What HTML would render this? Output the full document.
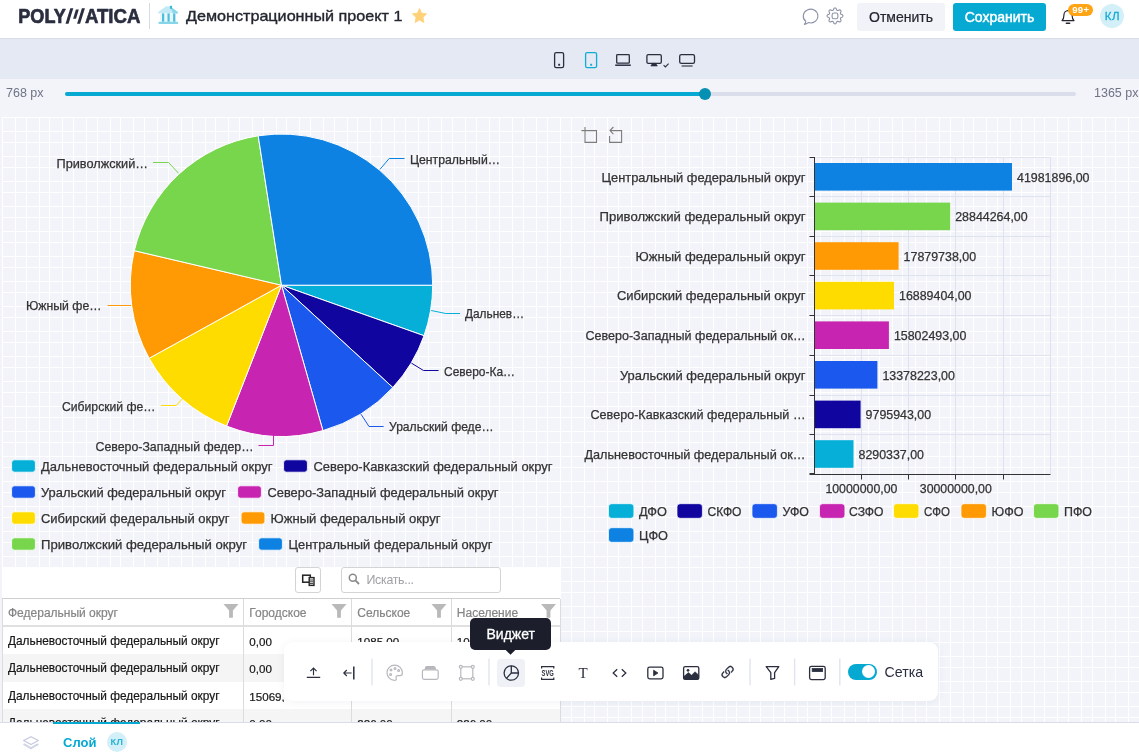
<!DOCTYPE html>
<html lang="ru">
<head>
<meta charset="utf-8">
<title>Polymatica</title>
<style>
*{box-sizing:border-box;margin:0;padding:0}
html,body{width:1139px;height:756px;overflow:hidden;background:#f2f4fa;font-family:"Liberation Sans",sans-serif;color:#2a2e3f}
.abs{position:absolute}
#hdr{position:absolute;left:0;top:0;width:1139px;height:39px;background:#fff;border-bottom:1px solid #d9dcea}
#devbar{position:absolute;left:0;top:39px;width:1139px;height:40px;background:#e5e9f4}
#sliderbar{position:absolute;left:0;top:79px;width:1139px;height:31px;background:#f2f4fa}
#canvas{position:absolute;left:0;top:110px;width:1139px;height:613px;background:#f2f4fa;overflow:hidden}
#footer{position:absolute;left:0;top:722px;width:1139px;height:34px;background:#fff;border-top:1px solid #d9dcea}
.t{position:absolute;white-space:nowrap;line-height:1}
.btn{position:absolute;top:3px;height:28px;border-radius:3px;font-size:14px;line-height:28px;text-align:center}
.hd{color:#858585;font-size:12px}
#tbl .t{-webkit-text-stroke:0.2px currentColor}
#tbl .n{font-size:11.6px;margin-top:0.3px}
.vl{top:32px;width:1px;height:140px;background:#dcdcdc}
svg{position:absolute;overflow:visible}
svg text{font-family:"Liberation Sans",sans-serif}
.ct text{stroke:#333;stroke-width:0.25px}
</style>
</head>
<body>
<!-- HEADER -->
<div id="hdr">
  <svg id="logo" style="left:0;top:0" width="150" height="38" viewBox="0 0 150 38">
    <g font-family="Liberation Sans, sans-serif" font-weight="700" font-size="20.7" fill="#2a2e3f" stroke="#2a2e3f" stroke-width="0.7" stroke-linejoin="round">
      <text x="18.3" y="23.3" textLength="47.6" lengthAdjust="spacingAndGlyphs">POLY</text>
      <text x="84.9" y="23.3" textLength="55.6" lengthAdjust="spacingAndGlyphs">ATICA</text>
    </g>
    <g fill="#2a2e3f">
      <polygon points="65.5,23.7 68.5,23.7 73.3,8.2 70.3,8.2"/>
      <polygon points="73.1,18.8 76,18.8 78.8,9.4 75.9,9.4"/>
      <polygon points="77.1,23.7 80.1,23.7 84.9,8.2 81.9,8.2"/>
    </g>
  </svg>
  <div class="abs" style="left:149px;top:3px;width:1px;height:26px;background:#d6d9e6"></div>
  <svg id="bank" style="left:158px;top:5px" width="20" height="20" viewBox="158 5 20 20">
    <path d="M158.2 13.4 V12 L166 6.2 H170 L177.8 12 V13.4 Z" fill="#c4ebf5"/>
    <path d="M170 6.2 L177.8 12 V13.4 H173 Z" fill="#8ad7ea"/>
    <rect x="169.9" y="5.8" width="2.1" height="3" fill="#3bb8d8"/>
    <rect x="160" y="13.4" width="16" height="8.4" fill="#e9f7fb"/>
    <rect x="162" y="13.4" width="2.2" height="8.4" fill="#4dbfdc"/>
    <rect x="167.5" y="13.4" width="2.2" height="8.4" fill="#4dbfdc"/>
    <rect x="173.1" y="13.4" width="2.2" height="8.4" fill="#4dbfdc"/>
    <rect x="158.6" y="21.8" width="19.4" height="2.3" rx="0.5" fill="#86d6ea"/>
  </svg>
  <svg id="title" style="left:0;top:0" width="420" height="38"><text x="186" y="21.1" font-size="15" fill="#23262f" stroke="#23262f" stroke-width="0.35" textLength="216.4" lengthAdjust="spacingAndGlyphs">Демонстрационный проект 1</text></svg>
  <svg id="star" style="left:412px;top:7.9px" width="15" height="15" viewBox="0 0 24 23" preserveAspectRatio="none">
    <path d="M12 0.8 L15.4 8 L23.3 9 L17.5 14.4 L19 22.2 L12 18.4 L5 22.2 L6.5 14.4 L0.7 9 L8.6 8 Z" fill="#ffd27a" stroke="#ffd27a" stroke-width="1.4" stroke-linejoin="round"/>
  </svg>
  <svg id="chat" style="left:0;top:0" width="850" height="38" viewBox="0 0 850 38" fill="none" stroke="#8d91a8" stroke-width="1.1" stroke-linejoin="round">
    <path d="M805.8 21.3 A7.3 6.9 0 1 1 808.2 22.6 Q806.6 24 804.3 24.5 Q805.6 23 805.8 21.3 Z"/>
    <path id="gear" d="M842.95 15.90 L842.91 16.21 L842.79 16.51 L842.59 16.80 L842.30 17.06 L841.82 17.26 L841.33 17.42 L841.03 17.60 L840.79 17.78 L840.61 17.97 L840.50 18.18 L840.43 18.41 L840.42 18.66 L840.46 18.96 L840.55 19.30 L840.78 19.76 L840.98 20.24 L841.00 20.63 L840.94 20.97 L840.81 21.27 L840.62 21.52 L840.37 21.71 L840.07 21.84 L839.73 21.90 L839.34 21.88 L838.86 21.68 L838.40 21.45 L838.06 21.36 L837.76 21.32 L837.51 21.33 L837.28 21.40 L837.07 21.51 L836.88 21.69 L836.70 21.93 L836.52 22.23 L836.36 22.72 L836.16 23.20 L835.90 23.49 L835.61 23.69 L835.31 23.81 L835.00 23.85 L834.69 23.81 L834.39 23.69 L834.10 23.49 L833.84 23.20 L833.64 22.72 L833.48 22.23 L833.30 21.93 L833.12 21.69 L832.93 21.51 L832.72 21.40 L832.49 21.33 L832.24 21.32 L831.94 21.36 L831.60 21.45 L831.14 21.68 L830.66 21.88 L830.27 21.90 L829.93 21.84 L829.63 21.71 L829.38 21.52 L829.19 21.27 L829.06 20.97 L829.00 20.63 L829.02 20.24 L829.22 19.76 L829.45 19.30 L829.54 18.96 L829.58 18.66 L829.57 18.41 L829.50 18.18 L829.39 17.97 L829.21 17.78 L828.97 17.60 L828.67 17.42 L828.18 17.26 L827.70 17.06 L827.41 16.80 L827.21 16.51 L827.09 16.21 L827.05 15.90 L827.09 15.59 L827.21 15.29 L827.41 15.00 L827.70 14.74 L828.18 14.54 L828.67 14.38 L828.97 14.20 L829.21 14.02 L829.39 13.83 L829.50 13.62 L829.57 13.39 L829.58 13.14 L829.54 12.84 L829.45 12.50 L829.22 12.04 L829.02 11.56 L829.00 11.17 L829.06 10.83 L829.19 10.53 L829.38 10.28 L829.63 10.09 L829.93 9.96 L830.27 9.90 L830.66 9.92 L831.14 10.12 L831.60 10.35 L831.94 10.44 L832.24 10.48 L832.49 10.47 L832.72 10.40 L832.93 10.29 L833.12 10.11 L833.30 9.87 L833.48 9.57 L833.64 9.08 L833.84 8.60 L834.10 8.31 L834.39 8.11 L834.69 7.99 L835.00 7.95 L835.31 7.99 L835.61 8.11 L835.90 8.31 L836.16 8.60 L836.36 9.08 L836.52 9.57 L836.70 9.87 L836.88 10.11 L837.07 10.29 L837.28 10.40 L837.51 10.47 L837.76 10.48 L838.06 10.44 L838.40 10.35 L838.86 10.12 L839.34 9.92 L839.73 9.90 L840.07 9.96 L840.37 10.09 L840.62 10.28 L840.81 10.53 L840.94 10.83 L841.00 11.17 L840.98 11.56 L840.78 12.04 L840.55 12.50 L840.46 12.84 L840.42 13.14 L840.43 13.39 L840.50 13.62 L840.61 13.83 L840.79 14.02 L841.03 14.20 L841.33 14.38 L841.82 14.54 L842.30 14.74 L842.59 15.00 L842.79 15.29 L842.91 15.59 Z"/>
    <rect x="832.1" y="13" width="5.8" height="5.8" rx="1.9"/>
  </svg>
  <div class="btn" id="cancel" style="left:857px;width:88px;background:#f2f3f8;color:#23262f;-webkit-text-stroke:0.2px #23262f">Отменить</div>
  <div class="btn" id="save" style="left:953px;width:93px;background:#06a9d1;color:#fff;-webkit-text-stroke:0.45px #fff">Сохранить</div>
  <svg id="bell" style="left:1061.2px;top:8px" width="14" height="17" viewBox="0 0 14 17" fill="none" stroke="#23262f" stroke-width="1.2">
    <path d="M1 12.6 c1.6 -1.4 1.9 -2.6 1.9 -5.4 a4.1 4.6 0 0 1 8.2 0 c0 2.8 0.3 4 1.9 5.4 z" stroke-linejoin="round"/>
    <path d="M5.4 15.3 h3.2" stroke-width="1.6" stroke-linecap="round"/>
  </svg>
  <div class="abs" id="badge" style="left:1068px;top:4px;width:25px;height:12px;border-radius:6px;background:#ffa414;color:#fff;font-size:9.6px;font-weight:700;line-height:12px;text-align:center;letter-spacing:0.25px;padding-left:0.5px">99+</div>
  <div class="abs" id="avatar" style="left:1100px;top:4px;width:24px;height:24px;border-radius:12px;background:#d3eff7;color:#18aad4;font-size:11.5px;line-height:24px;text-align:center;letter-spacing:0.6px;padding-left:1px;-webkit-text-stroke:0.3px #18aad4">КЛ</div>
</div>
<!-- DEVICE BAR -->
<div id="devbar">
  <svg style="left:0;top:0" width="1139" height="40" viewBox="0 39 1139 40" fill="none" stroke="#2a2e3f" stroke-width="1.3">
    <!-- phone -->
    <rect x="554.6" y="52.6" width="9" height="15" rx="1.6"/>
    <rect x="558.2" y="63.8" width="1.9" height="1.9" fill="#2a2e3f" stroke="none"/>
    <!-- tablet (active) -->
    <rect x="585.6" y="52.6" width="11" height="15" rx="1.6" stroke="#10add3"/>
    <rect x="590.2" y="63.8" width="1.9" height="1.9" fill="#10add3" stroke="none"/>
    <!-- laptop -->
    <rect x="616.7" y="54.6" width="12.6" height="8.6" rx="0.8"/>
    <path d="M615.2 65.2 H630.8" stroke-width="1.5"/>
    <!-- desktop -->
    <rect x="646.9" y="54.6" width="14.4" height="8.8" rx="1.4"/>
    <path d="M650.8 66 L652.4 63.4 H655.8 L657.4 66 Z" fill="#2a2e3f" stroke-width="0.6"/>
    <path d="M663.6 65.2 L665.4 67 L668.6 63.6" stroke-width="1.1"/>
    <!-- tv -->
    <rect x="679.7" y="54.6" width="14.8" height="8.8" rx="1.6"/>
    <path d="M681.6 66 H692.6" stroke-width="1.1"/>
  </svg>
</div>

<!-- SLIDER BAR -->
<div id="sliderbar">
  <div class="t" style="left:6px;top:8px;font-size:12.5px;color:#6f7384">768 px</div>
  <div class="abs" style="left:65px;top:13px;width:1011px;height:4px;border-radius:2px;background:#dadeea"></div>
  <div class="abs" style="left:65px;top:13px;width:640px;height:4px;border-radius:2px;background:#06a9d1"></div>
  <div class="abs" style="left:699px;top:9px;width:12px;height:12px;border-radius:6px;background:#0690b2"></div>
  <div class="t" style="left:1094px;top:8px;font-size:12.5px;color:#6f7384">1365 px</div>
</div>
<!-- CANVAS -->
<div id="canvas">
<svg id="grid" style="left:0;top:0" width="1139" height="613"><path d="M2.5 7V613M15.5 7V613M26.5 7V613M39.5 7V613M49.5 7V613M62.5 7V613M73.5 7V613M86.5 7V613M97.5 7V613M110.5 7V613M120.5 7V613M133.5 7V613M144.5 7V613M157.5 7V613M168.5 7V613M181.5 7V613M192.5 7V613M205.5 7V613M215.5 7V613M228.5 7V613M239.5 7V613M252.5 7V613M263.5 7V613M276.5 7V613M286.5 7V613M299.5 7V613M310.5 7V613M323.5 7V613M334.5 7V613M347.5 7V613M357.5 7V613M370.5 7V613M381.5 7V613M394.5 7V613M405.5 7V613M418.5 7V613M428.5 7V613M441.5 7V613M452.5 7V613M465.5 7V613M476.5 7V613M489.5 7V613M499.5 7V613M512.5 7V613M523.5 7V613M536.5 7V613M547.5 7V613M560.5 7V613M571.5 7V613M584.5 7V613M594.5 7V613M607.5 7V613M618.5 7V613M631.5 7V613M642.5 7V613M655.5 7V613M665.5 7V613M678.5 7V613M689.5 7V613M702.5 7V613M713.5 7V613M726.5 7V613M736.5 7V613M749.5 7V613M760.5 7V613M773.5 7V613M784.5 7V613M797.5 7V613M807.5 7V613M820.5 7V613M831.5 7V613M844.5 7V613M855.5 7V613M868.5 7V613M879.5 7V613M892.5 7V613M902.5 7V613M915.5 7V613M926.5 7V613M939.5 7V613M950.5 7V613M963.5 7V613M973.5 7V613M986.5 7V613M997.5 7V613M1010.5 7V613M1021.5 7V613M1034.5 7V613M1044.5 7V613M1057.5 7V613M1068.5 7V613M1081.5 7V613M1092.5 7V613M1105.5 7V613M1115.5 7V613M1128.5 7V613M1139.5 7V613M2 7.5H1139M2 21.5H1139M2 32.5H1139M2 46.5H1139M2 57.5H1139M2 71.5H1139M2 82.5H1139M2 96.5H1139M2 107.5H1139M2 121.5H1139M2 132.5H1139M2 146.5H1139M2 157.5H1139M2 171.5H1139M2 182.5H1139M2 196.5H1139M2 207.5H1139M2 221.5H1139M2 232.5H1139M2 246.5H1139M2 257.5H1139M2 271.5H1139M2 282.5H1139M2 296.5H1139M2 307.5H1139M2 321.5H1139M2 332.5H1139M2 346.5H1139M2 357.5H1139M2 371.5H1139M2 382.5H1139M2 396.5H1139M2 407.5H1139M2 421.5H1139M2 432.5H1139M2 446.5H1139M2 457.5H1139M2 471.5H1139M2 482.5H1139M2 496.5H1139M2 507.5H1139M2 521.5H1139M2 532.5H1139M2 546.5H1139M2 557.5H1139M2 571.5H1139M2 582.5H1139M2 596.5H1139M2 607.5H1139" fill="none" stroke="#fff" stroke-width="1"/></svg>
<svg id="pie" class="ct" style="left:0;top:0" width="570" height="470" font-size="12.2" fill="#333">
<path d="M281.50 175.20 L432.70 175.20 A151.2 151.2 0 0 1 424.01 225.73 Z" fill="#06afd8" stroke="#fff" stroke-width="1" stroke-linejoin="round"/>
<path d="M281.50 175.20 L424.01 225.73 A151.2 151.2 0 0 1 392.81 277.53 Z" fill="#10069f" stroke="#fff" stroke-width="1" stroke-linejoin="round"/>
<path d="M281.50 175.20 L392.81 277.53 A151.2 151.2 0 0 1 322.92 320.62 Z" fill="#1b58ee" stroke="#fff" stroke-width="1" stroke-linejoin="round"/>
<path d="M281.50 175.20 L322.92 320.62 A151.2 151.2 0 0 1 226.54 316.06 Z" fill="#c725b1" stroke="#fff" stroke-width="1" stroke-linejoin="round"/>
<path d="M281.50 175.20 L226.54 316.06 A151.2 151.2 0 0 1 149.14 248.29 Z" fill="#ffdc00" stroke="#fff" stroke-width="1" stroke-linejoin="round"/>
<path d="M281.50 175.20 L149.14 248.29 A151.2 151.2 0 0 1 134.29 140.67 Z" fill="#ff9a04" stroke="#fff" stroke-width="1" stroke-linejoin="round"/>
<path d="M281.50 175.20 L134.29 140.67 A151.2 151.2 0 0 1 258.19 25.81 Z" fill="#77d64c" stroke="#fff" stroke-width="1" stroke-linejoin="round"/>
<path d="M281.50 175.20 L258.19 25.81 A151.2 151.2 0 0 1 432.70 175.20 Z" fill="#0d82e3" stroke="#fff" stroke-width="1" stroke-linejoin="round"/>
<polyline points="380.0,59.3 389.2,48.5 404.5,48.5" fill="none" stroke="#0d82e3" stroke-width="1"/>
<text x="410.0" y="54.3" textLength="90.0" lengthAdjust="spacingAndGlyphs">Центральный…</text>
<polyline points="178.5,63.2 168.6,52.5 153.0,52.5" fill="none" stroke="#77d64c" stroke-width="1"/>
<text x="56.5" y="57.8" textLength="91.5" lengthAdjust="spacingAndGlyphs">Приволжский…</text>
<polyline points="131.0,195.5 122.0,195.5 107.5,195.5" fill="none" stroke="#ff9a04" stroke-width="1"/>
<text x="26.0" y="199.8" textLength="75.5" lengthAdjust="spacingAndGlyphs">Южный фе…</text>
<polyline points="185.0,286.0 176.2,295.5 161.0,295.5" fill="none" stroke="#ffdc00" stroke-width="1"/>
<text x="62.0" y="300.8" textLength="93.5" lengthAdjust="spacingAndGlyphs">Сибирский фе…</text>
<polyline points="273.5,325.0 273.5,335.5 258.5,335.5" fill="none" stroke="#c725b1" stroke-width="1"/>
<text x="95.5" y="340.8" textLength="158.0" lengthAdjust="spacingAndGlyphs">Северо-Западный федер…</text>
<polyline points="361.0,304.2 369.0,316.5 383.6,316.5" fill="none" stroke="#1b58ee" stroke-width="1"/>
<text x="389.0" y="320.8" textLength="104.5" lengthAdjust="spacingAndGlyphs">Уральский феде…</text>
<polyline points="411.4,253.1 423.5,260.5 438.6,260.5" fill="none" stroke="#10069f" stroke-width="1"/>
<text x="444.0" y="265.8" textLength="71.0" lengthAdjust="spacingAndGlyphs">Северо-Ка…</text>
<polyline points="431.2,200.5 445.8,203.5 460.0,203.5" fill="none" stroke="#06afd8" stroke-width="1"/>
<text x="465.0" y="207.8" textLength="59.0" lengthAdjust="spacingAndGlyphs">Дальнев…</text>
<g font-size="12.2">
<rect x="11.6" y="349.8" width="23.8" height="12.4" rx="3" fill="#06afd8" stroke="#fff" stroke-opacity="0.8" stroke-width="1"/>
<text x="41.0" y="361.0" textLength="231.5" lengthAdjust="spacingAndGlyphs">Дальневосточный федеральный округ</text>
<rect x="283.6" y="349.8" width="23.8" height="12.4" rx="3" fill="#10069f" stroke="#fff" stroke-opacity="0.8" stroke-width="1"/>
<text x="313.5" y="361.0" textLength="239.0" lengthAdjust="spacingAndGlyphs">Северо-Кавказский федеральный округ</text>
<rect x="11.6" y="375.8" width="23.8" height="12.4" rx="3" fill="#1b58ee" stroke="#fff" stroke-opacity="0.8" stroke-width="1"/>
<text x="41.0" y="387.0" textLength="185.0" lengthAdjust="spacingAndGlyphs">Уральский федеральный округ</text>
<rect x="237.6" y="375.8" width="23.8" height="12.4" rx="3" fill="#c725b1" stroke="#fff" stroke-opacity="0.8" stroke-width="1"/>
<text x="267.5" y="387.0" textLength="231.0" lengthAdjust="spacingAndGlyphs">Северо-Западный федеральный округ</text>
<rect x="11.6" y="401.8" width="23.8" height="12.4" rx="3" fill="#ffdc00" stroke="#fff" stroke-opacity="0.8" stroke-width="1"/>
<text x="41.0" y="413.0" textLength="188.5" lengthAdjust="spacingAndGlyphs">Сибирский федеральный округ</text>
<rect x="241.1" y="401.8" width="23.8" height="12.4" rx="3" fill="#ff9a04" stroke="#fff" stroke-opacity="0.8" stroke-width="1"/>
<text x="270.5" y="413.0" textLength="170.0" lengthAdjust="spacingAndGlyphs">Южный федеральный округ</text>
<rect x="11.6" y="427.8" width="23.8" height="12.4" rx="3" fill="#77d64c" stroke="#fff" stroke-opacity="0.8" stroke-width="1"/>
<text x="41.0" y="439.0" textLength="206.0" lengthAdjust="spacingAndGlyphs">Приволжский федеральный округ</text>
<rect x="258.6" y="427.8" width="23.8" height="12.4" rx="3" fill="#0d82e3" stroke="#fff" stroke-opacity="0.8" stroke-width="1"/>
<text x="288.5" y="439.0" textLength="204.0" lengthAdjust="spacingAndGlyphs">Центральный федеральный округ</text>
</g>
</svg>
<svg id="bar" class="ct" style="left:0;top:0" width="1139" height="470" font-size="12.2" fill="#333">
<g fill="none" stroke="#7d7d7d" stroke-width="1.1"><path d="M585 17.0 V32.4 H596.5 V20.6 H589 M581.4 20.6 H589"/><path d="M609.6 26.0 V32.4 H621.6 V20.6 H610.5 M613.4 17.0 L610 20.6 L613.4 24.2"/></g>
<g stroke="#dfe3f0" stroke-width="1" fill="none">
<path d="M814.5 47.5 H1050.5"/>
<path d="M814.5 86.5 H1050.5"/>
<path d="M814.5 126.5 H1050.5"/>
<path d="M814.5 165.5 H1050.5"/>
<path d="M814.5 205.5 H1050.5"/>
<path d="M814.5 245.5 H1050.5"/>
<path d="M814.5 285.5 H1050.5"/>
<path d="M814.5 324.5 H1050.5"/>
<path d="M861.5 47.0 V363.8"/>
<path d="M908.5 47.0 V363.8"/>
<path d="M955.5 47.0 V363.8"/>
<path d="M1003.5 47.0 V363.8"/>
<path d="M1050.5 47.0 V363.8"/>
</g>
<rect x="814.7" y="53.0" width="197.3" height="27.6" fill="#0d82e3"/>
<text x="601.5" y="71.6" textLength="204.0" lengthAdjust="spacingAndGlyphs">Центральный федеральный округ</text>
<text x="1017.0" y="71.6" textLength="72.5" lengthAdjust="spacingAndGlyphs">41981896,00</text>
<rect x="814.7" y="92.6" width="135.5" height="27.6" fill="#77d64c"/>
<text x="599.5" y="111.2" textLength="206.0" lengthAdjust="spacingAndGlyphs">Приволжский федеральный округ</text>
<text x="955.2" y="111.2" textLength="72.5" lengthAdjust="spacingAndGlyphs">28844264,00</text>
<rect x="814.7" y="132.2" width="83.9" height="27.6" fill="#ff9a04"/>
<text x="635.5" y="150.8" textLength="170.0" lengthAdjust="spacingAndGlyphs">Южный федеральный округ</text>
<text x="903.6" y="150.8" textLength="72.5" lengthAdjust="spacingAndGlyphs">17879738,00</text>
<rect x="814.7" y="171.8" width="79.3" height="27.6" fill="#ffdc00"/>
<text x="617.0" y="190.4" textLength="188.5" lengthAdjust="spacingAndGlyphs">Сибирский федеральный округ</text>
<text x="899.0" y="190.4" textLength="72.5" lengthAdjust="spacingAndGlyphs">16889404,00</text>
<rect x="814.7" y="211.4" width="74.2" height="27.6" fill="#c725b1"/>
<text x="585.5" y="230.0" textLength="220.0" lengthAdjust="spacingAndGlyphs">Северо-Западный федеральный ок…</text>
<text x="893.9" y="230.0" textLength="72.5" lengthAdjust="spacingAndGlyphs">15802493,00</text>
<rect x="814.7" y="251.0" width="62.7" height="27.6" fill="#1b58ee"/>
<text x="620.0" y="269.6" textLength="185.5" lengthAdjust="spacingAndGlyphs">Уральский федеральный округ</text>
<text x="882.4" y="269.6" textLength="72.5" lengthAdjust="spacingAndGlyphs">13378223,00</text>
<rect x="814.7" y="290.6" width="45.9" height="27.6" fill="#10069f"/>
<text x="590.5" y="309.2" textLength="215.0" lengthAdjust="spacingAndGlyphs">Северо-Кавказский федеральный …</text>
<text x="865.6" y="309.2" textLength="65.5" lengthAdjust="spacingAndGlyphs">9795943,00</text>
<rect x="814.7" y="330.2" width="38.8" height="27.6" fill="#06afd8"/>
<text x="584.5" y="348.8" textLength="221.0" lengthAdjust="spacingAndGlyphs">Дальневосточный федеральный ок…</text>
<text x="858.5" y="348.8" textLength="65.5" lengthAdjust="spacingAndGlyphs">8290337,00</text>
<g stroke="#333" stroke-width="1" fill="none">
<path d="M814.5 47.0 V364.5 M809.5 364.5 H1050.5"/>
<path d="M809.5 47.5 H814.5"/>
<path d="M809.5 86.5 H814.5"/>
<path d="M809.5 126.5 H814.5"/>
<path d="M809.5 165.5 H814.5"/>
<path d="M809.5 205.5 H814.5"/>
<path d="M809.5 245.5 H814.5"/>
<path d="M809.5 285.5 H814.5"/>
<path d="M809.5 324.5 H814.5"/>
<path d="M809.5 363.5 H814.5"/>
<path d="M861.5 364.5 V369.5"/>
<path d="M908.5 364.5 V369.5"/>
<path d="M955.5 364.5 V369.5"/>
<path d="M1003.5 364.5 V369.5"/>
</g>
<text x="825.4" y="382.6" textLength="72" lengthAdjust="spacingAndGlyphs">10000000,00</text>
<text x="919.8" y="382.6" textLength="72" lengthAdjust="spacingAndGlyphs">30000000,00</text>
<rect x="608.5" y="393.7" width="25.4" height="14.6" rx="3.2" fill="#06afd8" stroke="#fff" stroke-opacity="0.7" stroke-width="1"/>
<text x="639.0" y="405.6" textLength="28.0" lengthAdjust="spacingAndGlyphs">ДФО</text>
<rect x="677.0" y="393.7" width="25.4" height="14.6" rx="3.2" fill="#10069f" stroke="#fff" stroke-opacity="0.7" stroke-width="1"/>
<text x="707.5" y="405.6" textLength="34.0" lengthAdjust="spacingAndGlyphs">СКФО</text>
<rect x="752.0" y="393.7" width="25.4" height="14.6" rx="3.2" fill="#1b58ee" stroke="#fff" stroke-opacity="0.7" stroke-width="1"/>
<text x="782.5" y="405.6" textLength="26.5" lengthAdjust="spacingAndGlyphs">УФО</text>
<rect x="819.5" y="393.7" width="25.4" height="14.6" rx="3.2" fill="#c725b1" stroke="#fff" stroke-opacity="0.7" stroke-width="1"/>
<text x="849.0" y="405.6" textLength="34.5" lengthAdjust="spacingAndGlyphs">СЗФО</text>
<rect x="893.5" y="393.7" width="25.4" height="14.6" rx="3.2" fill="#ffdc00" stroke="#fff" stroke-opacity="0.7" stroke-width="1"/>
<text x="924.0" y="405.6" textLength="26.0" lengthAdjust="spacingAndGlyphs">СФО</text>
<rect x="961.0" y="393.7" width="25.4" height="14.6" rx="3.2" fill="#ff9a04" stroke="#fff" stroke-opacity="0.7" stroke-width="1"/>
<text x="991.5" y="405.6" textLength="32.0" lengthAdjust="spacingAndGlyphs">ЮФО</text>
<rect x="1033.5" y="393.7" width="25.4" height="14.6" rx="3.2" fill="#77d64c" stroke="#fff" stroke-opacity="0.7" stroke-width="1"/>
<text x="1064.0" y="405.6" textLength="28.0" lengthAdjust="spacingAndGlyphs">ПФО</text>
<rect x="608.5" y="417.7" width="25.4" height="14.6" rx="3.2" fill="#0d82e3" stroke="#fff" stroke-opacity="0.7" stroke-width="1"/>
<text x="639.0" y="429.6" textLength="29.0" lengthAdjust="spacingAndGlyphs">ЦФО</text>
</svg>
<!-- TABLE WIDGET -->
<div id="tbl" class="abs" style="left:2px;top:457px;width:559px;height:170px;background:#fff;overflow:hidden;font-size:11.85px;color:#161616">
  <div class="abs" style="left:293px;top:0px;width:26px;height:26px;border:1px solid #d4d4d4;border-radius:3px;background:#fff"></div>
  <svg style="left:0;top:0" width="330" height="30" viewBox="2 567 330 30" fill="none" stroke="#222" stroke-width="1.5">
    <rect x="302.7" y="575.2" width="7.6" height="7"/>
    <rect x="309.2" y="577.6" width="4.8" height="7.8" fill="#fff" stroke-width="1.4"/>
    <path d="M310 580h3.2M310 581.8h3.2M310 583.6h3.2" stroke-width="0.9"/>
  </svg>
  <div class="abs" style="left:339px;top:0px;width:160px;height:26px;border:1px solid #d4d4d4;border-radius:3px;background:#fff"></div>
  <svg style="left:346px;top:6px" width="12" height="12" viewBox="0 0 12 12" fill="none" stroke="#8a8a8a" stroke-width="1.5">
    <circle cx="4.8" cy="4.8" r="3.5"/><path d="M7.4 7.4 L11 11" stroke-width="1.8"/>
  </svg>
  <div class="t" style="left:364.5px;top:7.2px;font-size:12.4px;letter-spacing:-0.3px;color:#a0a0a6;-webkit-text-stroke:0">Искать...</div>
  <!-- header -->
  <div class="abs" style="left:0;top:31px;width:558px;height:1px;background:#cfcfcf"></div>
  <div class="abs" style="left:0;top:58px;width:558px;height:2px;background:#e0e0e0"></div>
  <div class="t hd" style="left:6px;top:40px">Федеральный округ</div>
  <div class="t hd" style="left:247.3px;top:40px">Городское</div>
  <div class="t hd" style="left:355.3px;top:40px">Сельское</div>
  <div class="t hd" style="left:454.8px;top:40px">Население</div>
  <svg style="left:0;top:31px" width="558" height="28" viewBox="0 0 558 28" fill="#b9b9b9">
    <path id="fl" d="M221.5 6 h15 l-5.6 6.6 v7.2 h-3.8 v-7.2 z"/>
    <path d="M329.5 6 h15 l-5.6 6.6 v7.2 h-3.8 v-7.2 z"/>
    <path d="M429.5 6 h15 l-5.6 6.6 v7.2 h-3.8 v-7.2 z"/>
    <path d="M539 6 h15 l-5.6 6.6 v7.2 h-3.8 v-7.2 z"/>
  </svg>
  <!-- rows -->
  <div class="abs" style="left:0;top:87px;width:558px;height:27.5px;background:#f5f5f5"></div>
  <div class="abs" style="left:0;top:141.5px;width:558px;height:28.5px;background:#f5f5f5"></div>
  <div class="abs vl" style="left:0px"></div>
  <div class="abs vl" style="left:241px"></div>
  <div class="abs vl" style="left:349px"></div>
  <div class="abs vl" style="left:449px"></div>
  <div class="abs vl" style="left:558px"></div>
  <div class="t" style="left:6px;top:68.6px">Дальневосточный федеральный округ</div>
  <div class="t" style="left:6px;top:96px">Дальневосточный федеральный округ</div>
  <div class="t" style="left:6px;top:123.5px">Дальневосточный федеральный округ</div>
  <div class="t" style="left:6px;top:150.6px">Дальневосточный федеральный округ</div>
  <div class="t n" style="left:247.3px;top:68.6px">0,00</div>
  <div class="t n" style="left:247.3px;top:96px">0,00</div>
  <div class="t n" style="left:247.3px;top:123.5px;width:35px;overflow:hidden">15069,00</div>
  <div class="t n" style="left:247.3px;top:150.6px">0,00</div>
  <div class="t n" style="left:355.3px;top:68.6px">1085,00</div>
  <div class="t n" style="left:355.3px;top:96px">0,00</div>
  <div class="t n" style="left:355.3px;top:123.5px;height:10.4px;overflow:hidden">0,00</div>
  <div class="t n" style="left:355.3px;top:150.6px">226,00</div>
  <div class="t n" style="left:454.8px;top:68.6px">1085,00</div>
  <div class="t n" style="left:454.8px;top:96px">0,00</div>
  <div class="t n" style="left:454.8px;top:123.5px;height:10.4px;overflow:hidden">15069,00</div>
  <div class="t n" style="left:454.8px;top:150.6px">226,00</div>
</div>
<!-- FLOATING TOOLBAR -->
<div id="tbar" class="abs" style="left:283.5px;top:532.3px;width:654px;height:59px;background:#fff;border-radius:9px;box-shadow:0 1px 8px rgba(60,70,110,0.07)"></div>
<div class="abs" style="left:497px;top:549px;width:28px;height:28px;border-radius:4px;background:#f0f1f6"></div>
<svg id="tbicons" style="left:0;top:0" width="1139" height="613" viewBox="0 110 1139 613" fill="none" stroke="#2a2e3f" stroke-width="1.3">
  <!-- separators -->
  <g stroke="#e1e4ee" stroke-width="1.4">
    <path d="M372 658.5V685.5M489 658.5V685.5M750 658.5V685.5M794.6 658.5V685.5M839.8 658.5V685.5"/>
  </g>
  <!-- upload -->
  <path d="M306.8 677.3H320.2M313.5 675.2V668.4M310.4 671.2L313.5 668.1L316.6 671.2" stroke-width="1.15"/>
  <!-- arrow to bar -->
  <path d="M353.8 666.4V679.6" stroke-width="1.5"/><path d="M343.8 673H351.6M346.8 670L343.8 673L346.8 676" stroke-width="1.15"/>
  <!-- palette (disabled) -->
  <g stroke="#b7b8bd" stroke-width="1.2">
    <path d="M394.6 665.2a7.6 7.6 0 1 0 0 15.2c1.6 0 2-1 1.6-2c-.6-1.6.2-2.8 1.8-2.8h2c1.4 0 2.4-1 2.4-2.6c0-4.4-3.4-7.8-7.8-7.8z"/>
    <circle cx="391" cy="670" r="0.9"/><circle cx="395" cy="668.4" r="0.9"/><circle cx="398.6" cy="670.6" r="0.9"/><circle cx="390.6" cy="674.6" r="0.9"/>
  </g>
  <!-- box (disabled) -->
  <g stroke="#b7b8bd" stroke-width="1.2">
    <rect x="422.4" y="669.8" width="15.8" height="9.6" rx="1.8"/>
    <path d="M425.4 669.6V668.2a1.6 1.6 0 0 1 1.6-1.6h6.6a1.6 1.6 0 0 1 1.6 1.6V669.6" fill="#b7b8bd"/>
  </g>
  <!-- frame (disabled) -->
  <g stroke="#b7b8bd" stroke-width="1.2">
    <rect x="460.8" y="666.8" width="12" height="12"/>
    <circle cx="460.8" cy="666.8" r="1.5" fill="#fff"/><circle cx="472.8" cy="666.8" r="1.5" fill="#fff"/><circle cx="460.8" cy="678.8" r="1.5" fill="#fff"/><circle cx="472.8" cy="678.8" r="1.5" fill="#fff"/>
  </g>
  <!-- pie (active) -->
  <circle cx="511.3" cy="673" r="7.2"/>
  <path d="M511.3 665.8V673H518.5M511.3 673L506.4 678.4"/>
  <!-- T -->
  <!-- code -->
  <path d="M617.2 669.2L613.2 673L617.2 676.8M621.8 669.2L625.8 673L621.8 676.8"/>
  <!-- play -->
  <rect x="647.8" y="667.2" width="15.2" height="11.6" rx="1.8"/>
  <path d="M653.6 670.2V675.8L658 673Z" fill="#2a2e3f" stroke-width="0.8"/>
  <!-- image -->
  <rect x="683.6" y="666.6" width="15.2" height="12.8" rx="1.6"/>
  <path d="M683.8 679V676.6L688.4 672.6L691.6 675.2L695 671.8L698.6 675V679Z" fill="#2a2e3f" stroke-width="0.6"/>
  <circle cx="688" cy="670.3" r="1.35" fill="#2a2e3f" stroke="none"/>
  <!-- link -->
  <g transform="translate(718.9 663.9) scale(1.085)" fill="#2a2e3f" stroke="#2a2e3f" stroke-width="0.25">
    <path d="M4.715 6.542 3.343 7.914a3 3 0 1 0 4.243 4.243l1.828-1.829A3 3 0 0 0 8.586 5.5L8 6.086a1 1 0 0 0-.154.199 2 2 0 0 1 .861 3.337L6.88 11.45a2 2 0 1 1-2.83-2.83l.793-.792a4 4 0 0 1-.128-1.287z"/>
    <path d="M6.586 4.672A3 3 0 0 0 7.414 9.5l.775-.776a2 2 0 0 1-.896-3.346L9.12 3.55a2 2 0 1 1 2.83 2.83l-.793.792c.112.42.155.855.128 1.287l1.372-1.372a3 3 0 1 0-4.243-4.243z"/>
  </g>
  <!-- funnel -->
  <path d="M766.2 666.6H778.8L774.6 672.6V678.4L770.8 679.4V672.6Z" stroke-linejoin="round"/>
  <!-- window -->
  <rect x="809.6" y="666.4" width="15.6" height="13.2" rx="1.8"/>
  <rect x="812.2" y="668.6" width="10.4" height="3" fill="#2a2e3f" stroke-width="0.8"/>
  <!-- SVG icon & T as text -->
  <path d="M541.6 668.6V666.6H553.8V668.6M541.6 677.4V679.4H553.8V677.4" stroke-width="1.2"/>
  <text x="541.6" y="676.2" font-size="9" font-weight="700" fill="#2a2e3f" stroke="none" textLength="12.2" lengthAdjust="spacingAndGlyphs">SVG</text>
  <text x="578.6" y="677.8" font-size="15" font-family="Liberation Serif, serif" fill="#2a2e3f" stroke="none" style="font-family:'Liberation Serif',serif">T</text>
</svg>
<!-- toggle -->
<div class="abs" style="left:848.2px;top:553.9px;width:28.6px;height:16px;border-radius:8px;background:#06a9d1"></div>
<div class="abs" style="left:862.1px;top:555.4px;width:13px;height:13px;border-radius:6.5px;background:#fff"></div>
<div class="t" style="left:884.5px;top:555px;font-size:14.2px;color:#2a2e3f">Сетка</div>
<!-- tooltip -->
<div class="abs" style="left:470px;top:508px;width:81px;height:32px;border-radius:5px;background:#1c1f2b"></div>
<div class="abs" style="left:505.5px;top:533.6px;width:9px;height:9px;background:#1c1f2b;transform:rotate(45deg)"></div>
<div class="t" style="left:486.5px;top:517px;font-size:14px;color:#fff;-webkit-text-stroke:0.3px #fff">Виджет</div>

</div>
<!-- FOOTER -->
<div id="footer">
  <div class="abs" style="left:53px;top:-1px;width:87px;height:2px;background:#06a9d1"></div>
  <svg style="left:23px;top:13px" width="16" height="14" viewBox="0 0 16 14" fill="none" stroke="#c3c6de" stroke-width="1.1" stroke-linejoin="round">
    <path d="M8 0.8 L15.4 4.6 L8 8.4 L0.6 4.6 Z"/>
    <path d="M1.6 8 L8 11.6 L14.4 8 L15.4 8.6 L8 12.8 L0.6 8.6 Z" stroke-width="0.9"/>
  </svg>
  <div class="t" id="layer" style="left:63px;top:12.6px;font-size:13px;font-weight:700;color:#06a9d1">Слой</div>
  <div class="abs" style="left:107px;top:9px;width:20px;height:20px;border-radius:10px;background:#d3eff7;color:#2ab2d6;font-size:9.2px;font-weight:700;line-height:20px;text-align:center;letter-spacing:0.4px">КЛ</div>
</div>
</body>
</html>
